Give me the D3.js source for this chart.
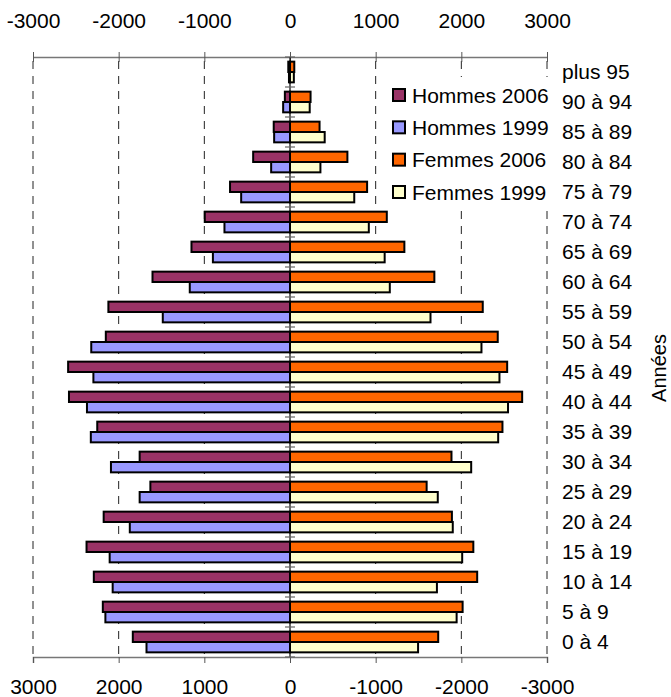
<!DOCTYPE html>
<html>
<head>
<meta charset="utf-8">
<script src="https://cdn.jsdelivr.net/npm/d3@7"></script>
<style>
  html, body { margin: 0; padding: 0; background: #fff; }
  svg { display: block; font-family: "Liberation Sans", Arial, sans-serif; }
</style>
</head>
<body>
<svg id="chart" width="671" height="697"></svg>
<script>
// ---- Data (bottom to top) ----
const categories = ["0 à 4","5 à 9","10 à 14","15 à 19","20 à 24","25 à 29","30 à 34","35 à 39","40 à 44","45 à 49","50 à 54","55 à 59","60 à 64","65 à 69","70 à 74","75 à 79","80 à 84","85 à 89","90 à 94","plus 95"];
const hommes2006 = [1835,2185,2290,2375,2175,1630,1755,2250,2580,2590,2150,2120,1605,1150,995,700,430,190,60,20];
const hommes1999 = [1675,2155,2070,2105,1870,1755,2090,2325,2370,2295,2320,1485,1170,900,765,570,220,185,80,12];
const femmes2006 = [1730,2015,2185,2140,1890,1595,1885,2480,2710,2535,2425,2250,1685,1335,1130,900,670,345,240,50];
const femmes1999 = [1495,1945,1715,2010,1900,1725,2115,2430,2545,2445,2235,1640,1165,1105,920,750,355,405,230,45];
const topTicks = [-3000,-2000,-1000,0,1000,2000,3000];
const seriesNames = ["Hommes 2006","Hommes 1999","Femmes 2006","Femmes 1999"];
const seriesColors = ["#993366","#9999FF","#FF6600","#FFFFCC"];
const axisTitle = "Années";

// ---- Scales ----
const svg = d3.select("#chart");
const x = d3.scaleLinear().domain([-3000, 3000]).range([33, 547]);
const y = d3.scaleBand().domain(categories).range([657, 57]).padding(0);
const sub = d3.scaleBand().domain(["2006","1999"]).range([0, y.bandwidth()]).paddingInner(0).paddingOuter(0.45);

// ---- Gridlines ----
svg.append("g").selectAll("line")
  .data(topTicks.filter(d => d !== 0))
  .join("line")
  .attr("x1", d => x(d)).attr("x2", d => x(d))
  .attr("y1", 61).attr("y2", 657)
  .attr("stroke", "#222").attr("stroke-width", 1)
  .attr("stroke-dasharray", "8,7");

// ---- Top axis ----
const fmt = d => String(d);
const topAxis = d3.axisTop(x).tickValues(topTicks).tickSize(0).tickPadding(0).tickFormat(fmt);
const gTop = svg.append("g").attr("transform", "translate(0,57)").call(topAxis);
gTop.select(".domain").attr("stroke", "#777").attr("stroke-width", 1.5);
gTop.selectAll(".tick line").remove();
gTop.selectAll(".tick").append("line").attr("y1", -5).attr("y2", 5).attr("stroke", "#555");
gTop.selectAll(".tick text").attr("y", -29).attr("dy", 0).attr("font-size", 21).attr("fill", "#000");

// ---- Bottom axis (mirrored labels) ----
const botAxis = d3.axisBottom(x).tickValues(topTicks).tickSize(6).tickPadding(0).tickFormat(d => String(-d));
const gBot = svg.append("g").attr("transform", "translate(0,657)").call(botAxis);
gBot.select(".domain").attr("stroke", "#777").attr("stroke-width", 1.5);
gBot.selectAll(".tick line").attr("stroke", "#555");
gBot.selectAll(".tick text").attr("y", 37).attr("dy", 0).attr("font-size", 21).attr("fill", "#000");
svg.selectAll("g").attr("font-family", null);

// ---- Bars ----
const rows = categories.map((c, i) => ({c, h06: hommes2006[i], h99: hommes1999[i], f06: femmes2006[i], f99: femmes1999[i]}));
const bars = svg.append("g");
function drawBars(key, yr, male, color) {
  bars.append("g").selectAll("rect").data(rows).join("rect")
    .attr("x", d => male ? x(-d[key]) : x(0))
    .attr("width", d => male ? x(0) - x(-d[key]) : x(d[key]) - x(0))
    .attr("y", d => y(d.c) + sub(yr))
    .attr("height", sub.bandwidth())
    .attr("fill", color).attr("stroke", "#000").attr("stroke-width", 2);
}
drawBars("h06", "2006", true, seriesColors[0]);
drawBars("h99", "1999", true, seriesColors[1]);
drawBars("f06", "2006", false, seriesColors[2]);
drawBars("f99", "1999", false, seriesColors[3]);

// ---- Category axis at zero ----
const gCat = svg.append("g");
gCat.append("line").attr("x1", x(0)).attr("x2", x(0)).attr("y1", 57).attr("y2", 657)
  .attr("stroke", "#000").attr("stroke-width", 1.2);
const bounds = categories.map(c => y(c)).concat([y(categories[0]) + y.bandwidth()]);
gCat.selectAll("line.t").data(bounds).join("line").attr("class", "t")
  .attr("x1", x(0) - 5).attr("x2", x(0) + 5)
  .attr("y1", d => d).attr("y2", d => d)
  .attr("stroke", "#666").attr("stroke-width", 1.2);

// ---- Category labels ----
svg.append("g").selectAll("text").data(categories).join("text")
  .attr("x", 562).attr("y", d => y(d) + y.bandwidth() / 2)
  .attr("dy", "0.32em").attr("font-size", 21).attr("fill", "#000")
  .text(d => d);

// ---- Axis title ----
svg.append("text")
  .attr("transform", "translate(666,368) rotate(-90)")
  .attr("text-anchor", "middle").attr("font-size", 20).attr("fill", "#000")
  .text(axisTitle);

// ---- Legend ----
const leg = svg.append("g");
leg.append("rect").attr("x", 384).attr("y", 77).attr("width", 170).attr("height", 131).attr("fill", "#fff");
const legY = d3.scalePoint().domain(seriesNames).range([95, 192]);
seriesNames.forEach((n, i) => {
  leg.append("rect").attr("x", 393).attr("y", legY(n) - 6).attr("width", 12).attr("height", 12)
    .attr("fill", seriesColors[i]).attr("stroke", "#000").attr("stroke-width", 2);
  leg.append("text").attr("x", 412).attr("y", legY(n)).attr("dy", "0.36em")
    .attr("font-size", 21).attr("fill", "#000").text(n);
});
</script>
</body>
</html>
